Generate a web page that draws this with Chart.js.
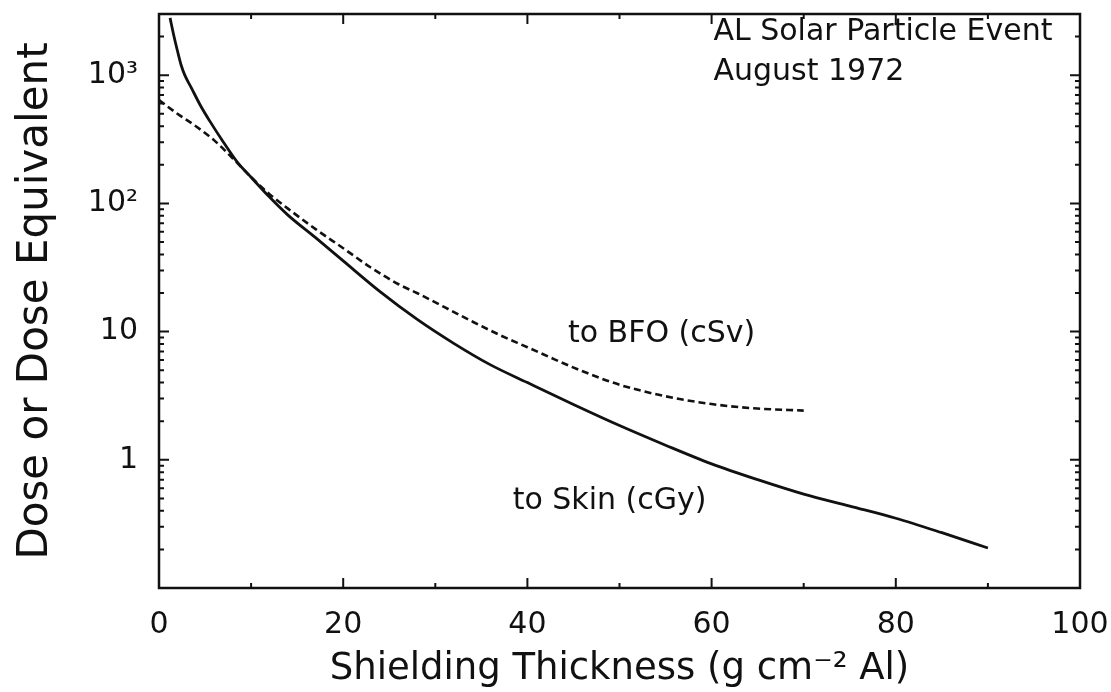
<!DOCTYPE html>
<html lang="en">
<head>
    <meta charset="UTF-8">
    <title>AL Solar Particle Event - August 1972</title>
    <script src="https://cdn.jsdelivr.net/npm/chart.js"></script>
    <style>
        body {
            margin: 0;
            background-color: #ffffff;
        }
        .chart-container {
            width: 1111px;
            height: 692px;
        }
    </style>
</head>
<body>
    <div class="chart-container">
        <canvas id="doseChart" width="1111" height="692"></canvas>
    </div>

    <script>
        // Dose to skin (cGy), solid curve
        const skinThickness = [1.2, 1.6, 2.0, 2.4, 2.8, 3.5, 4.5, 5.5, 7, 8.5, 10, 12, 14, 17, 20, 24, 28, 32, 36, 40, 45, 50, 55, 60, 65, 70, 75, 80, 85, 90];
        const skinDose = [2800, 2050, 1550, 1200, 1000, 800, 580, 440, 300, 210, 160, 112, 81, 54, 35.6, 20.5, 12.5, 8.1, 5.5, 4.0, 2.7, 1.85, 1.3, 0.93, 0.70, 0.54, 0.435, 0.35, 0.27, 0.205];

        // Dose equivalent to BFO (cSv), dashed curve
        const bfoThickness = [0, 2, 4, 6, 8, 10, 12, 14, 17, 20, 23, 26, 28, 31, 34, 37, 40, 43, 46, 50, 55, 60, 65, 70];
        const bfoDose = [640, 500, 400, 310, 225, 160, 118, 91, 63, 44.7, 31.6, 23.4, 20, 15.5, 12, 9.4, 7.55, 6.05, 4.9, 3.85, 3.13, 2.72, 2.51, 2.42];

        // Axis ticks
        const xTickValues = [0, 20, 40, 60, 80, 100];
        const yTickValues = [1, 10, 100, 1000];
        const yTickLabels = ['1', '10', '10²', '10³'];

        // Text written inside the plot (data coordinates)
        const noteTexts = ['AL Solar Particle Event', 'August 1972', 'to BFO (cSv)', 'to Skin (cGy)'];
        const noteX = [60.2, 60.2, 44.4, 38.4];
        const noteY = [2160, 1055, 9.5, 0.475];

        const FONT = "'DejaVu Sans', sans-serif";

        function toPoints(xs, ys) {
            return xs.map((x, i) => ({ x: x, y: ys[i] }));
        }

        // frame + inward tick marks on all four sides, and the notes
        const frameTicks = {
            id: 'frameTicks',
            afterDatasetsDraw(chart) {
                const { ctx, chartArea: a, scales } = chart;
                ctx.save();
                ctx.strokeStyle = '#111';
                ctx.lineWidth = 2.5;
                ctx.strokeRect(a.left, a.top, a.right - a.left, a.bottom - a.top);

                ctx.lineWidth = 2;
                ctx.beginPath();
                for (let v = 0; v <= 100; v += 10) {
                    const px = scales.x.getPixelForValue(v);
                    const len = v % 20 === 0 ? 10 : 5;
                    ctx.moveTo(px, a.bottom); ctx.lineTo(px, a.bottom - len);
                    ctx.moveTo(px, a.top); ctx.lineTo(px, a.top + len);
                }
                for (let p = -1; p <= 3; p++) {
                    for (let m = 1; m <= 9; m++) {
                        const v = m * Math.pow(10, p);
                        if (v < scales.y.min || v > scales.y.max) continue;
                        const py = scales.y.getPixelForValue(v);
                        const len = m === 1 ? 10 : 5;
                        ctx.moveTo(a.left, py); ctx.lineTo(a.left + len, py);
                        ctx.moveTo(a.right, py); ctx.lineTo(a.right - len, py);
                    }
                }
                ctx.stroke();

                ctx.fillStyle = '#111';
                ctx.font = '30px ' + FONT;
                ctx.textAlign = 'left';
                ctx.textBaseline = 'middle';
                noteTexts.forEach((t, i) => {
                    ctx.fillText(t, scales.x.getPixelForValue(noteX[i]), scales.y.getPixelForValue(noteY[i]));
                });
                ctx.restore();
            }
        };

        const ctx = document.getElementById('doseChart').getContext('2d');
        new Chart(ctx, {
            type: 'line',
            data: {
                datasets: [
                    {
                        label: 'to Skin (cGy)',
                        data: toPoints(skinThickness, skinDose),
                        borderColor: '#111',
                        borderWidth: 2.8,
                        pointRadius: 0,
                        cubicInterpolationMode: 'monotone',
                        fill: false
                    },
                    {
                        label: 'to BFO (cSv)',
                        data: toPoints(bfoThickness, bfoDose),
                        borderColor: '#111',
                        borderWidth: 2.6,
                        borderDash: [7, 4],
                        pointRadius: 0,
                        cubicInterpolationMode: 'monotone',
                        fill: false
                    }
                ]
            },
            options: {
                responsive: false,
                animation: false,
                layout: {
                    padding: { top: 14, right: 31, bottom: 0, left: 0 }
                },
                plugins: {
                    legend: { display: false },
                    tooltip: { enabled: false }
                },
                scales: {
                    x: {
                        type: 'linear',
                        min: 0,
                        max: 100,
                        grid: { display: false },
                        border: { display: false },
                        afterBuildTicks: axis => {
                            axis.ticks = xTickValues.map(v => ({ value: v }));
                        },
                        afterFit: axis => {
                            axis.height = 104;
                            axis.paddingLeft = 0;
                            axis.paddingRight = 0;
                        },
                        ticks: {
                            color: '#111',
                            padding: 11,
                            maxRotation: 0,
                            font: { family: FONT, size: 30 }
                        },
                        title: {
                            display: true,
                            text: 'Shielding Thickness (g cm⁻² Al)',
                            color: '#111',
                            padding: { top: 0, bottom: 0 },
                            font: { family: FONT, size: 37 }
                        }
                    },
                    y: {
                        type: 'logarithmic',
                        min: 0.1,
                        max: 3000,
                        grid: { display: false },
                        border: { display: false },
                        afterBuildTicks: axis => {
                            axis.ticks = yTickValues.map(v => ({ value: v }));
                        },
                        afterFit: axis => {
                            axis.width = 159;
                            axis.paddingTop = 0;
                            axis.paddingBottom = 0;
                        },
                        ticks: {
                            color: '#111',
                            padding: 13,
                            font: { family: FONT, size: 30 },
                            callback: value => yTickLabels[yTickValues.indexOf(value)]
                        },
                        title: {
                            display: true,
                            text: 'Dose or Dose Equivalent',
                            color: '#111',
                            padding: { top: 11, bottom: 0 },
                            font: { family: FONT, size: 42 }
                        }
                    }
                }
            },
            plugins: [frameTicks]
        });
    </script>
</body>
</html>
